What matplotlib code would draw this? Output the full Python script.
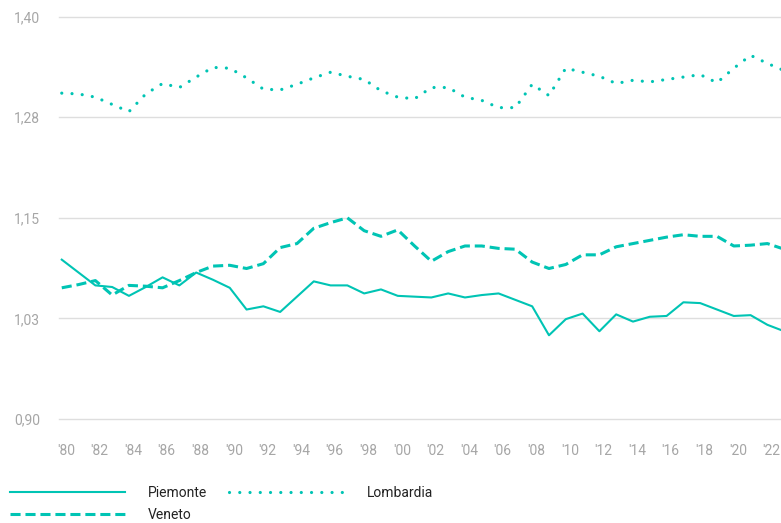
import matplotlib
matplotlib.use('Agg')
import matplotlib.pyplot as plt
import matplotlib.transforms as mtransforms
import numpy as np

plt.rcParams['font.family'] = ['Roboto', 'DejaVu Sans']

years = list(range(1980, 2024))

piemonte = [1.098, 1.082, 1.066, 1.064, 1.053, 1.064, 1.076, 1.066, 1.082, 1.073,
            1.063, 1.036, 1.040, 1.033, 1.052, 1.071, 1.066, 1.066, 1.056, 1.061,
            1.053, 1.052, 1.051, 1.056, 1.051, 1.054, 1.056, 1.048, 1.040, 1.004,
            1.024, 1.031, 1.009, 1.030, 1.021, 1.027, 1.028, 1.045, 1.044, 1.036,
            1.028, 1.029, 1.017, 1.009]

lombardia = [1.305, 1.304, 1.300, 1.291, 1.282, 1.304, 1.317, 1.312, 1.325, 1.337,
             1.336, 1.324, 1.310, 1.309, 1.316, 1.324, 1.331, 1.326, 1.322, 1.308,
             1.300, 1.298, 1.312, 1.312, 1.300, 1.296, 1.287, 1.287, 1.316, 1.302,
             1.336, 1.331, 1.326, 1.317, 1.321, 1.319, 1.322, 1.325, 1.328, 1.318,
             1.336, 1.352, 1.342, 1.333]

veneto = [1.063, 1.067, 1.072, 1.054, 1.066, 1.065, 1.063, 1.072, 1.082, 1.090,
          1.091, 1.087, 1.093, 1.113, 1.118, 1.137, 1.144, 1.150, 1.134, 1.127,
          1.135, 1.115, 1.096, 1.108, 1.115, 1.115, 1.112, 1.111, 1.095, 1.087,
          1.092, 1.104, 1.104, 1.114, 1.118, 1.122, 1.126, 1.129, 1.127, 1.127,
          1.115, 1.116, 1.118, 1.111]

tick_years = list(range(1980, 2023, 2))
tick_labels = ["'" + str(y)[2:] for y in tick_years]
y_ticks = [0.90, 1.025, 1.15, 1.275, 1.40]
y_labels = ['0,90', '1,03', '1,15', '1,28', '1,40']

teal = '#00c4b4'

fig = plt.figure(figsize=(7.81, 5.23), dpi=100)
ax = fig.add_axes([0.0752, 0.199, 0.9248, 0.769])

l_pie, = ax.plot(years, piemonte, color=teal, lw=1.5, label='Piemonte', zorder=3)
l_ven, = ax.plot(years, veneto, color=teal, lw=2.2, linestyle=(0, (3.3, 1.6)),
                 label='Veneto', zorder=3)
l_lom, = ax.plot(years, lombardia, color=teal, lw=2.3, linestyle=(0, (0.01, 3.2)),
                 dash_capstyle='round', label='Lombardia', zorder=3)

ax.set_xlim(1979.82, 2022.81)
ax.set_ylim(0.90, 1.40)
ax.set_xticks(tick_years)
ax.set_xticklabels(tick_labels)
ax.set_yticks(y_ticks)
ax.set_yticklabels(y_labels)

ax.grid(axis='y', color='#dedede', lw=1.0)
ax.set_axisbelow(True)
# keep the bottom and top gridlines whole at the axes edges
for gl in ax.get_ygridlines():
    gl.set_clip_on(False)
for s in ax.spines.values():
    s.set_visible(False)
ax.tick_params(axis='both', length=0, labelsize=10, labelcolor='#a6a6a6')
ax.tick_params(axis='x', pad=18)
ax.tick_params(axis='y', pad=13.5)

# nudge the year labels a little to the right
shift = mtransforms.ScaledTranslation(4 / 100, 0, fig.dpi_scale_trans)
for lab in ax.get_xticklabels():
    lab.set_transform(lab.get_transform() + shift)

fig.legend(handles=[l_pie, l_ven, l_lom], loc='upper left',
           bbox_to_anchor=(10 / 781, 1 - 486 / 523), ncol=2, frameon=False,
           fontsize=10, handlelength=8.3, handletextpad=1.6, columnspacing=1.6,
           labelspacing=0.6, borderpad=0, borderaxespad=0, labelcolor='#222222')

fig.savefig('out.png', dpi=100)
